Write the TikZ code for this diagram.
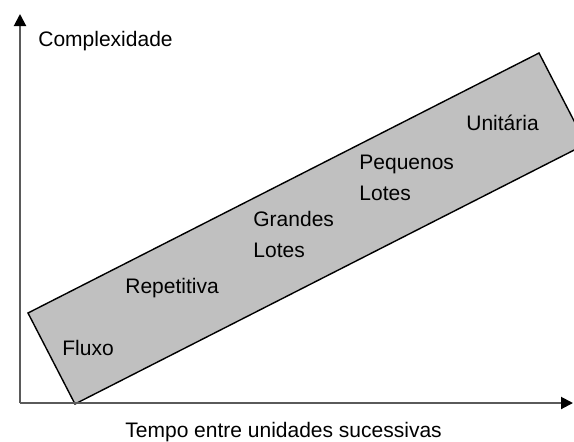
\documentclass[tikz,border=0pt]{standalone}
\usepackage{fontspec}
\setmainfont{Liberation Sans}
\usetikzlibrary{arrows.meta}
\definecolor{boxgray}{RGB}{192,192,192}
\definecolor{axisgray}{RGB}{90,90,90}
\begin{document}
\begin{tikzpicture}[x=0.5pt, y=-0.5pt, font=\fontsize{10.5}{15.5}\selectfont,
	axis/.style={draw=axisgray, line width=1pt, -{Triangle[length=6pt,width=6pt,color=black]}},
	lbl/.style={anchor=base west, inner sep=0pt},
	twolbl/.style={anchor=north west, inner sep=0pt, align=left}]
	\useasboundingbox (0,0) rectangle (574,441);
	\path
	(20,403) coordinate (O)
	(20,14) coordinate (Y)
	(573,403) coordinate (X)
	(28,313) coordinate (A)
	(75,404) coordinate (B)
	(586,144) coordinate (C)
	(539,53) coordinate (D);
	\begin{scope}
		\clip (0,0) rectangle (574,441);
		\draw[fill=boxgray, line width=0.7pt] (A)--(B)--(C)--(D)--cycle;
	\end{scope}
	\draw[axis] (O)--(Y);
	\draw[axis] (O)--(X);
	\node[lbl] (cplx) at (38,46) {Complexidade};
	\node[lbl] (tempo) at (125,437) {Tempo entre unidades sucessivas};
	\node[lbl] (fluxo) at (62,355) {Fluxo};
	\node[lbl] (repet) at (125,293) {Repetitiva};
	\node[twolbl] (grandes) at (253,211) {Grandes\\Lotes};
	\node[twolbl] (pequenos) at (359,155) {Pequenos\\Lotes};
	\node[lbl] (unit) at (466,130) {Unitária};
\end{tikzpicture}
\end{document}
